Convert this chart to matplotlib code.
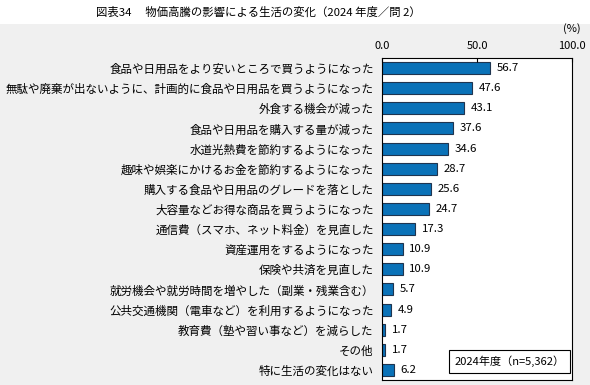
import matplotlib.pyplot as plt
from matplotlib.patches import Rectangle

plt.rcParams['font.family'] = ['Noto Sans CJK JP', 'DejaVu Sans']

items = [
    "食品や日用品をより安いところで買うようになった",
    "無駄や廃棄が出ないように、計画的に食品や日用品を買うようになった",
    "外食する機会が減った",
    "食品や日用品を購入する量が減った",
    "水道光熱費を節約するようになった",
    "趣味や娯楽にかけるお金を節約するようになった",
    "購入する食品や日用品のグレードを落とした",
    "大容量などお得な商品を買うようになった",
    "通信費（スマホ、ネット料金）を見直した",
    "資産運用をするようになった",
    "保険や共済を見直した",
    "就労機会や就労時間を増やした（副業・残業含む）",
    "公共交通機関（電車など）を利用するようになった",
    "教育費（塾や習い事など）を減らした",
    "その他",
    "特に生活の変化はない",
]
values = [56.7, 47.6, 43.1, 37.6, 34.6, 28.7, 25.6, 24.7, 17.3, 10.9, 10.9, 5.7, 4.9, 1.7, 1.7, 6.2]
ticks = [0, 50, 100]
tick_labels = ["0.0", "50.0", "100.0"]

fig = plt.figure(figsize=(5.9, 3.85), dpi=100)
fig.patches.append(Rectangle((0, 0), 1, 1 - 24 / 385, transform=fig.transFigure,
                             facecolor='#f0f0f0', edgecolor='none', zorder=-10))
fig.text(258 / 590, 1 - 12 / 385, "図表34　 物価高騰の影響による生活の変化（2024 年度／問 2）",
         ha='center', va='center', fontsize=8.2)

ax = fig.add_axes([382 / 590, 5 / 385, 190 / 590, 322 / 385])
ax.set_facecolor('white')
y = list(range(len(items)))
ax.barh(y, values, height=0.6, color='#0a72b8', edgecolor='#1f3550', linewidth=0.8)
for yi, v in zip(y, values):
    ax.text(v + 3.5, yi, f"{v:.1f}", va='center', ha='left', fontsize=8.2)

ax.set_xlim(0, 100)
ax.set_ylim(len(items) - 0.5, -0.5)
ax.xaxis.tick_top()
ax.set_xticks(ticks)
ax.set_xticklabels(tick_labels, fontsize=8)
ax.tick_params(axis='x', direction='in', length=3, pad=5)
ax.set_yticks(y)
ax.set_yticklabels(items, fontsize=8.3)
ax.tick_params(axis='y', length=0, pad=6)
for s in ax.spines.values():
    s.set_linewidth(0.8)
ax.text(100, 1.075, "(%)", transform=ax.get_xaxis_transform(), ha='center', va='bottom', fontsize=8)

ax.text(0.96, 0.04, "2024年度（n=5,362）", transform=ax.transAxes, ha='right', va='bottom',
        fontsize=8, bbox=dict(facecolor='white', edgecolor='black', linewidth=0.8, pad=4))

plt.savefig("out.png", dpi=100)
